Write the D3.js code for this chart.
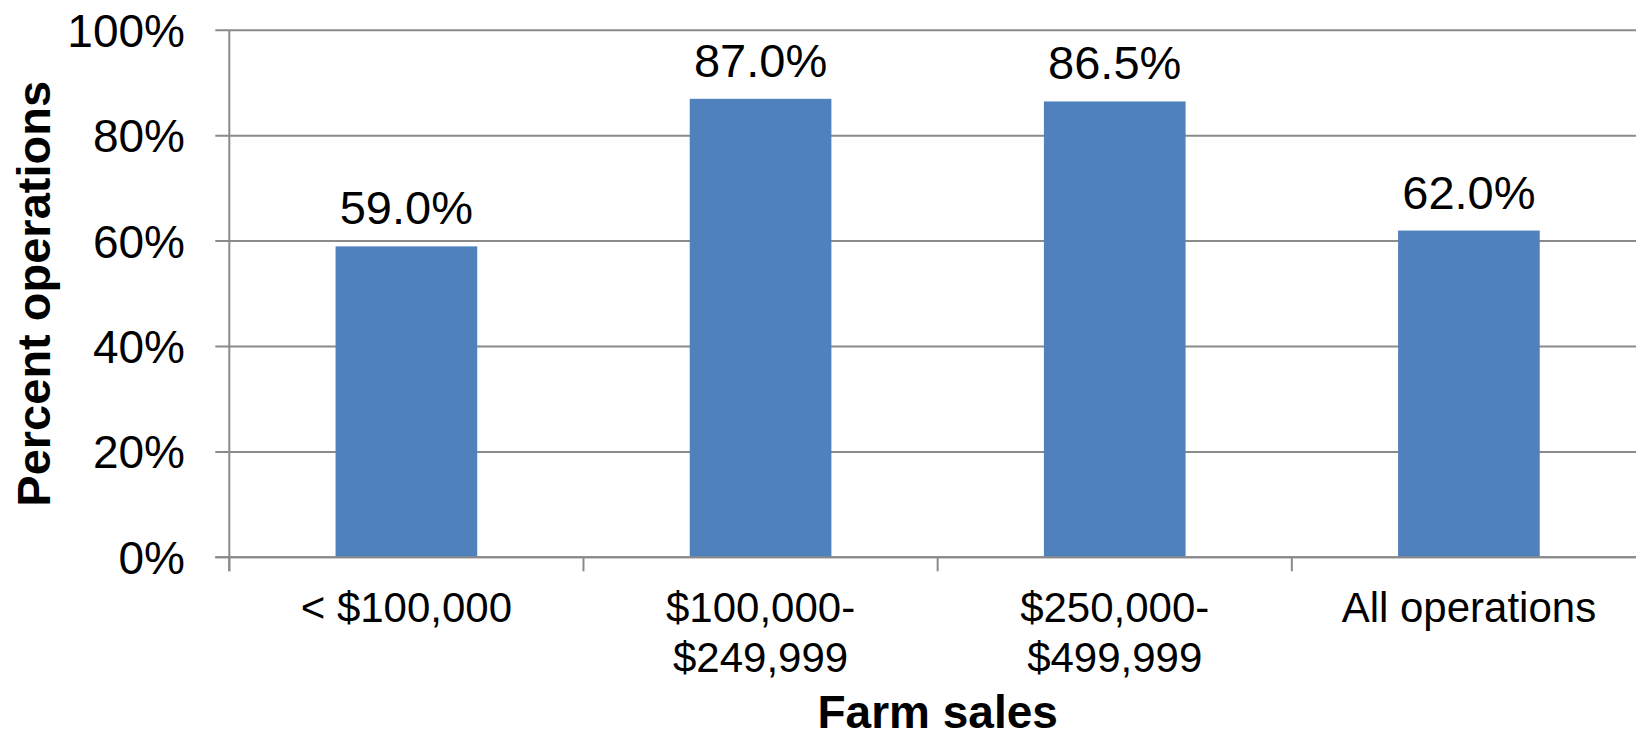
<!DOCTYPE html>
<html>
<head>
<meta charset="utf-8">
<script src="https://cdn.jsdelivr.net/npm/d3@7"></script>
<style>
  html, body { margin: 0; padding: 0; background: #fff; overflow: hidden; }
  svg { display: block; font-family: "Liberation Sans", Arial, sans-serif; }
</style>
</head>
<body>
<svg id="chart" width="1636" height="735"></svg>
<script>
const categories = [["< $100,000"], ["$100,000-", "$249,999"], ["$250,000-", "$499,999"], ["All operations"]];
const categoryKeys = ["< $100,000", "$100,000-$249,999", "$250,000-$499,999", "All operations"];
const values = [59.0, 87.0, 86.5, 62.0];
const yTicks = [0, 20, 40, 60, 80, 100];
const yTitle = "Percent operations";
const xTitle = "Farm sales";

(function () {
const svg = d3.select("#chart");
const pLeft = 229.3, pRight = 1646, pTop = 30.3, pBottom = 557.3;
const grid = "#8a8a8a";

const x = d3.scaleBand().domain(categoryKeys).range([pLeft, pRight]).paddingInner(0.6).paddingOuter(0.3);
const y = d3.scaleLinear().domain([0, 100]).range([pBottom, pTop]);

// gridlines + y ticks
svg.append("g").selectAll("line").data(yTicks).join("line")
  .attr("x1", pLeft - 14).attr("x2", 1636)
  .attr("y1", d => y(d)).attr("y2", d => y(d))
  .attr("stroke", grid).attr("stroke-width", 2);

// y axis line
svg.append("line").attr("x1", pLeft).attr("x2", pLeft).attr("y1", pTop).attr("y2", pBottom + 14)
  .attr("stroke", grid).attr("stroke-width", 2);

// category tick marks (band boundaries)
const step = x.step();
const boundaries = d3.range(categoryKeys.length + 1).map(i => pLeft + i * step);
svg.append("g").selectAll("line").data(boundaries).join("line")
  .attr("x1", d => d).attr("x2", d => d)
  .attr("y1", pBottom).attr("y2", pBottom + 14)
  .attr("stroke", grid).attr("stroke-width", 2);

// bars
svg.append("g").selectAll("rect").data(values).join("rect")
  .attr("x", (d, i) => x(categoryKeys[i]))
  .attr("width", x.bandwidth())
  .attr("y", d => y(d))
  .attr("height", d => y(0) - y(d))
  .attr("fill", "#4F81BD");

// redraw 0 baseline over bars
svg.append("line").attr("x1", pLeft - 14).attr("x2", 1636).attr("y1", y(0)).attr("y2", y(0))
  .attr("stroke", grid).attr("stroke-width", 2);

// value labels
svg.append("g").selectAll("text").data(values).join("text")
  .attr("x", (d, i) => x(categoryKeys[i]) + x.bandwidth() / 2)
  .attr("y", d => y(d) - 22)
  .attr("text-anchor", "middle")
  .attr("font-size", 47)
  .attr("fill", "#000")
  .text(d => d.toFixed(1) + "%");

// y tick labels
svg.append("g").selectAll("text").data(yTicks).join("text")
  .attr("x", 185)
  .attr("y", d => y(d))
  .attr("dy", "0.36em")
  .attr("text-anchor", "end")
  .attr("font-size", 46)
  .attr("fill", "#000")
  .text(d => d + "%");

// category labels
const cat = svg.append("g").selectAll("text").data(categories).join("text")
  .attr("x", (d, i) => x(categoryKeys[i]) + x.bandwidth() / 2)
  .attr("y", 622)
  .attr("text-anchor", "middle")
  .attr("font-size", 42)
  .attr("fill", "#000");
cat.each(function(lines) {
  const t = d3.select(this);
  lines.forEach((ln, j) => {
    t.append("tspan").attr("x", t.attr("x")).attr("dy", j === 0 ? 0 : 50).text(ln);
  });
});

// axis titles
svg.append("text")
  .attr("transform", `translate(50, ${(pTop + pBottom) / 2}) rotate(-90)`)
  .attr("text-anchor", "middle")
  .attr("font-size", 47)
  .attr("font-weight", "bold")
  .attr("fill", "#000")
  .text(yTitle);

svg.append("text")
  .attr("x", (pLeft + pRight) / 2)
  .attr("y", 728)
  .attr("text-anchor", "middle")
  .attr("font-size", 46)
  .attr("font-weight", "bold")
  .attr("fill", "#000")
  .text(xTitle);
})();
</script>
</body>
</html>
